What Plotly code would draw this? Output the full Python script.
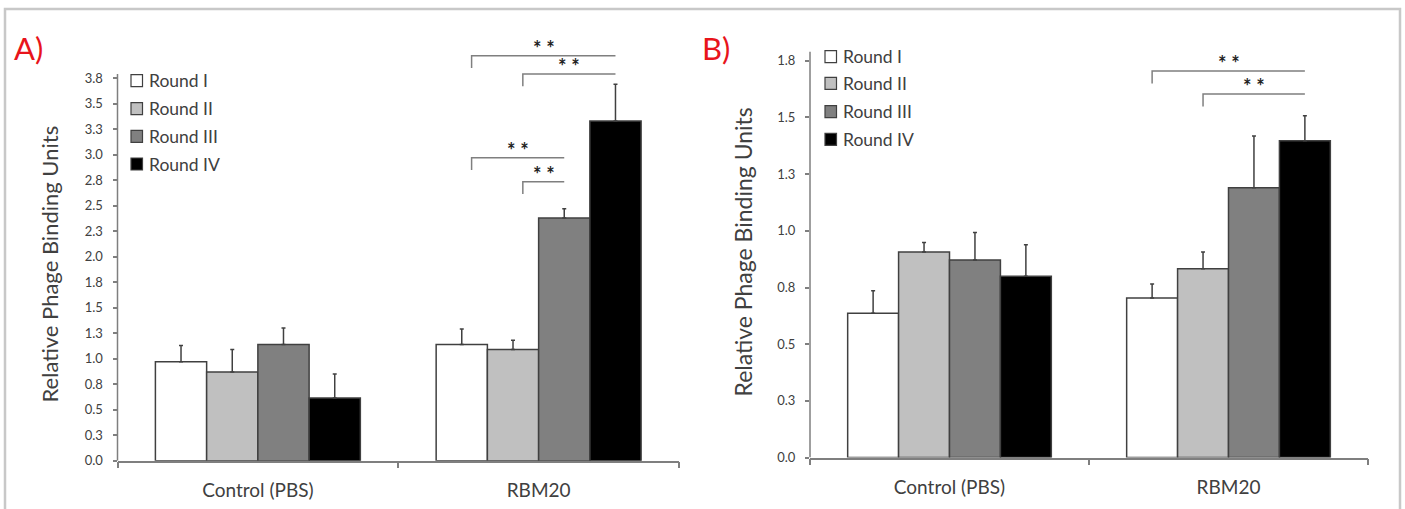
import plotly.graph_objects as go

W, H = 1405, 509

# ---------------- data ----------------
groups = ["Control (PBS)", "RBM20"]
rounds = ["Round I", "Round II", "Round III", "Round IV"]
colors = ["#ffffff", "#c0c0c0", "#808080", "#000000"]

# Panel A: mean values per round, [Control, RBM20]
a_round1 = [0.97, 1.14]
a_round2 = [0.87, 1.09]
a_round3 = [1.14, 2.38]
a_round4 = [0.615, 3.33]
a_err1 = [0.16, 0.15]
a_err2 = [0.22, 0.09]
a_err3 = [0.16, 0.09]
a_err4 = [0.235, 0.36]

# Panel B
b_round1 = [0.636, 0.704]
b_round2 = [0.906, 0.833]
b_round3 = [0.871, 1.19]
b_round4 = [0.80, 1.397]
b_err1 = [0.10, 0.061]
b_err2 = [0.042, 0.073]
b_err3 = [0.122, 0.228]
b_err4 = [0.139, 0.11]

a_tickvals = [0, 0.25, 0.5, 0.75, 1.0, 1.25, 1.5, 1.75, 2.0, 2.25, 2.5, 2.75, 3.0, 3.25, 3.5, 3.75]
a_ticktext = ["0.0", "0.3", "0.5", "0.8", "1.0", "1.3", "1.5", "1.8", "2.0", "2.3", "2.5", "2.8", "3.0", "3.3", "3.5", "3.8"]
b_tickvals = [0, 0.25, 0.5, 0.75, 1.0, 1.25, 1.5, 1.75]
b_ticktext = ["0.0", "0.3", "0.5", "0.8", "1.0", "1.3", "1.5", "1.8"]

y_title = "Relative Phage Binding Units"

# significance comparisons in RBM20 group: (from round idx, to round idx, bracket level)
a_sig = [(0, 3, 3.97), (1, 3, 3.79), (0, 2, 2.97), (1, 2, 2.735)]
b_sig = [(0, 3, 1.705), (1, 3, 1.603)]
sig_label = "* *"

# ---------------- helpers ----------------
def px_x(p):
    return p / W

def px_y(p):
    return 1 - p / H

AXC = "#7f7f7f"
EDGE = "#404040"
TXT = "#404040"
FONT = "Lato"
BARGAP = 0.27
BW = (1 - BARGAP) / 4

fig = go.Figure()

a_vals = [a_round1, a_round2, a_round3, a_round4]
a_errs = [a_err1, a_err2, a_err3, a_err4]
b_vals = [b_round1, b_round2, b_round3, b_round4]
b_errs = [b_err1, b_err2, b_err3, b_err4]

for vals, errs, xa, ya in [(a_vals, a_errs, "x", "y"), (b_vals, b_errs, "x2", "y2")]:
    for i, r in enumerate(rounds):
        fig.add_trace(go.Bar(
            x=groups, y=vals[i], name=r, xaxis=xa, yaxis=ya,
            marker=dict(color=colors[i], line=dict(color=EDGE, width=1.5)),
            error_y=dict(type="data", symmetric=False, array=errs[i], arrayminus=[0, 0],
                         color=EDGE, thickness=1.5, width=2),
            showlegend=False,
        ))

# ---------------- axes ----------------
a_top_px = 40
a_zero_px, a_scale = 460.7, 102.0
b_zero_px, b_scale = 457.6, 226.8

common_x = dict(type="category", range=[-0.5, 1.5], showline=True, linecolor=AXC, linewidth=1.5,
                ticks="outside", tickson="boundaries", ticklen=6, tickcolor=AXC, tickwidth=1.5,
                showgrid=False, zeroline=False, automargin=False, ticklabelstandoff=12,
                tickfont=dict(family=FONT, size=19, color=TXT), fixedrange=True)
common_y = dict(showline=False, ticks="outside", ticklen=4, tickcolor=AXC, tickwidth=1.5,
                showgrid=False, zeroline=False, ticklabelstandoff=7, automargin=False,
                tickfont=dict(family=FONT, size=13, color=TXT), fixedrange=True)

fig.update_layout(
    width=W, height=H, margin=dict(l=0, r=0, t=0, b=0, autoexpand=False),
    paper_bgcolor="white", plot_bgcolor="white",
    barmode="group", bargap=BARGAP, bargroupgap=0,
    xaxis=dict(common_x, domain=[px_x(117.5), px_x(679)], anchor="y"),
    yaxis=dict(common_y, domain=[px_y(a_zero_px), px_y(a_top_px)], anchor="x",
               range=[0, (a_zero_px - a_top_px) / a_scale],
               tickvals=a_tickvals, ticktext=a_ticktext),
    xaxis2=dict(common_x, domain=[px_x(810), px_x(1368)], anchor="y2"),
    yaxis2=dict(common_y, domain=[px_y(b_zero_px), px_y(a_top_px)], anchor="x2",
                range=[0, (b_zero_px - a_top_px) / b_scale],
                tickvals=b_tickvals, ticktext=b_ticktext),
)

shapes = []
annotations = []

# y axis titles (placed as rotated text)
annotations.append(dict(xref="paper", yref="paper", x=px_x(49), y=px_y(264.5), text=y_title,
                        textangle=-90, showarrow=False, xanchor="center", yanchor="middle",
                        font=dict(family=FONT, size=22, color=TXT)))
annotations.append(dict(xref="paper", yref="paper", x=px_x(742.5), y=px_y(252), text=y_title,
                        textangle=-90, showarrow=False, xanchor="center", yanchor="middle",
                        font=dict(family=FONT, size=23, color=TXT)))

# y axis lines
shapes.append(dict(type="line", xref="x domain", yref="y", x0=0, x1=0, y0=0, y1=3.79,
                   line=dict(color=AXC, width=1.5)))
shapes.append(dict(type="line", xref="x2 domain", yref="y2", x0=0, x1=0, y0=0, y1=1.79,
                   line=dict(color=AXC, width=1.5)))

# significance brackets
def center(i):
    return 1 + (i - 1.5) * BW

for sig, xr, yr, nudge, drop in [(a_sig, "x", "y", 0.035, 0.12), (b_sig, "x2", "y2", 0.0, 0.055)]:
    for (i, j, lvl) in sig:
        x0 = center(i) + nudge
        x1 = center(j)
        shapes.append(dict(type="path", xref=xr, yref=yr,
                           path=f"M {x0},{lvl - drop} L {x0},{lvl} L {x1},{lvl}",
                           line=dict(color=AXC, width=1.5)))
        annotations.append(dict(xref=xr, yref=yr, x=(x0 + x1) / 2, y=lvl, text="<b>" + sig_label + "</b>",
                                showarrow=False, yanchor="bottom", yshift=-6,
                                font=dict(family=FONT, size=20, color="#222222")))

# manual legends
for (sx, ys, tx) in [(131, [80.7, 108.7, 136.3, 164.0], 147), (825, [56.7, 83.3, 111.7, 139.3], 841)]:
    for k, r in enumerate(rounds):
        yc = ys[k]
        shapes.append(dict(type="rect", xref="paper", yref="paper",
                           x0=px_x(sx), x1=px_x(sx + 11.5), y0=px_y(yc + 6), y1=px_y(yc - 6),
                           fillcolor=colors[k], line=dict(color=EDGE, width=1.2)))
        annotations.append(dict(xref="paper", yref="paper", x=px_x(tx), y=px_y(yc), text=r,
                                showarrow=False, xanchor="left", yanchor="middle",
                                font=dict(family=FONT, size=17.5, color=TXT)))

# panel letters
annotations.append(dict(xref="paper", yref="paper", x=px_x(12), y=px_y(48), text="A)",
                        showarrow=False, xanchor="left", yanchor="middle",
                        font=dict(family=FONT, size=31, color="#e8141b")))
annotations.append(dict(xref="paper", yref="paper", x=px_x(700), y=px_y(48), text="B)",
                        showarrow=False, xanchor="left", yanchor="middle",
                        font=dict(family=FONT, size=31, color="#e8141b")))

# outer frame
shapes.append(dict(type="rect", xref="paper", yref="paper", x0=px_x(5), x1=px_x(1400),
                   y0=-0.05, y1=px_y(9), line=dict(color="#c8c8c8", width=2.5), layer="below"))

fig.update_layout(shapes=shapes, annotations=annotations)
fig.write_html("out.html")
